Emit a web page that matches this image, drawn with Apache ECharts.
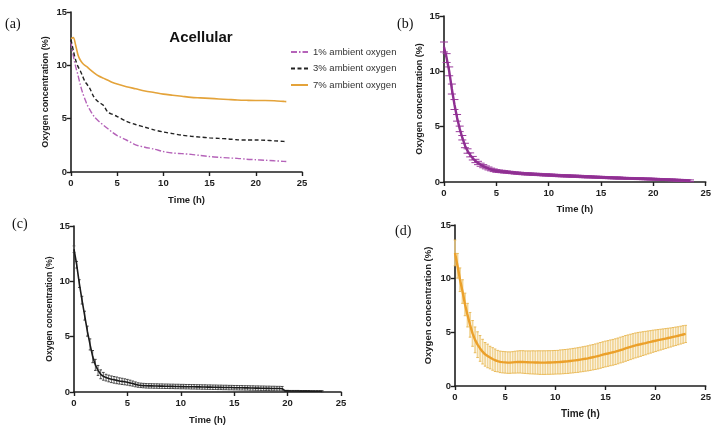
<!DOCTYPE html>
<html>
<head>
<meta charset="utf-8">
<script src="https://cdn.jsdelivr.net/npm/echarts@6/dist/echarts.min.js"></script>
<style>
  html, body { margin: 0; padding: 0; background: #fff; }
  #chart { width: 714px; height: 428px; }
</style>
</head>
<body>
<div id="chart"></div>
<script>
// ---- Panel (a): acellular medium, mean traces ----
const acellTime = [0, 0.25, 0.5, 0.75, 1, 1.25, 1.5, 1.75, 2, 2.5, 3, 3.5, 4, 4.5, 5, 6, 7, 8, 9, 10, 11, 12, 13, 14, 15, 16, 17, 18, 19, 20, 21, 22, 23, 23.3];
const acell1 = [12.2, 10.9, 9.9, 9.1, 8.2, 7.45, 6.85, 6.3, 5.9, 5.2, 4.75, 4.4, 4.05, 3.7, 3.42, 3.0, 2.55, 2.32, 2.15, 1.92, 1.78, 1.72, 1.65, 1.55, 1.45, 1.38, 1.32, 1.28, 1.2, 1.15, 1.1, 1.05, 1.0, 0.98];
const acell3 = [12.4, 11.4, 10.5, 9.9, 9.5, 9.0, 8.5, 8.2, 7.9, 7.0, 6.55, 6.25, 5.6, 5.4, 5.2, 4.75, 4.45, 4.2, 3.95, 3.75, 3.6, 3.45, 3.35, 3.27, 3.2, 3.15, 3.1, 3.02, 3.0, 3.0, 2.98, 2.92, 2.87, 2.85];
const acell7 = [12.5, 12.6, 11.9, 11.0, 10.5, 10.2, 10.0, 9.85, 9.65, 9.3, 9.0, 8.8, 8.6, 8.4, 8.25, 8.0, 7.8, 7.6, 7.45, 7.3, 7.2, 7.1, 7.0, 6.95, 6.9, 6.85, 6.8, 6.75, 6.72, 6.7, 6.7, 6.68, 6.62, 6.6];
const legendNames = ['1% ambient oxygen', '3% ambient oxygen', '7% ambient oxygen'];

// ---- Panels (b)-(d): readings every 15 min, mean and SD ----
const timeH = [0, 0.25, 0.5, 0.75, 1, 1.25, 1.5, 1.75, 2, 2.25, 2.5, 2.75, 3, 3.25, 3.5, 3.75,
  4, 4.25, 4.5, 4.75, 5, 5.25, 5.5, 5.75, 6, 6.25, 6.5, 6.75, 7, 7.25, 7.5, 7.75,
  8, 8.25, 8.5, 8.75, 9, 9.25, 9.5, 9.75, 10, 10.25, 10.5, 10.75, 11, 11.25, 11.5, 11.75,
  12, 12.25, 12.5, 12.75, 13, 13.25, 13.5, 13.75, 14, 14.25, 14.5, 14.75, 15, 15.25, 15.5, 15.75,
  16, 16.25, 16.5, 16.75, 17, 17.25, 17.5, 17.75, 18, 18.25, 18.5, 18.75, 19, 19.25, 19.5, 19.75,
  20, 20.25, 20.5, 20.75, 21, 21.25, 21.5, 21.75, 22, 22.25, 22.5, 22.75, 23, 23.25, 23.5];

// (b) 1% ambient oxygen
const meanB = [12.2, 11.2, 10.0, 8.4, 7.0, 5.8, 4.8, 4.0, 3.3, 2.8, 2.45, 2.15, 1.9, 1.72, 1.56, 1.43,
  1.32, 1.22, 1.13, 1.06, 1.0, 0.97, 0.95, 0.92, 0.9, 0.87, 0.85, 0.82, 0.8, 0.78, 0.76, 0.74,
  0.73, 0.72, 0.7, 0.69, 0.68, 0.67, 0.65, 0.64, 0.63, 0.62, 0.6, 0.59, 0.58, 0.57, 0.56, 0.55,
  0.54, 0.53, 0.52, 0.51, 0.5, 0.49, 0.48, 0.47, 0.46, 0.45, 0.44, 0.43, 0.42, 0.41, 0.4, 0.39,
  0.38, 0.37, 0.36, 0.36, 0.35, 0.34, 0.33, 0.33, 0.32, 0.31, 0.3, 0.3, 0.29, 0.28, 0.27, 0.27,
  0.26, 0.25, 0.24, 0.23, 0.22, 0.21, 0.2, 0.19, 0.18, 0.17, 0.16, 0.15, 0.14, 0.12, 0.11];
const sdB = [0.45, 0.4, 0.4, 0.45, 0.45, 0.3, 0.25, 0.2, 0.2, 0.2, 0.18, 0.16, 0.15, 0.15, 0.14, 0.14,
  0.13, 0.13, 0.12, 0.12, 0.12, 0.11, 0.11, 0.11, 0.1, 0.1, 0.1, 0.1, 0.1, 0.1, 0.1, 0.1,
  0.1, 0.1, 0.1, 0.1, 0.1, 0.1, 0.1, 0.1, 0.1, 0.1, 0.1, 0.1, 0.1, 0.1, 0.1, 0.1,
  0.1, 0.1, 0.1, 0.1, 0.1, 0.1, 0.1, 0.1, 0.09, 0.09, 0.09, 0.09, 0.09, 0.09, 0.09, 0.09,
  0.09, 0.09, 0.09, 0.09, 0.08, 0.08, 0.08, 0.08, 0.08, 0.08, 0.08, 0.08, 0.08, 0.08, 0.08, 0.08,
  0.08, 0.08, 0.08, 0.08, 0.08, 0.08, 0.08, 0.08, 0.08, 0.08, 0.08, 0.08, 0.08, 0.08, 0.08];

// (c) 3% ambient oxygen
const meanC = [12.9, 11.5, 9.8, 8.3, 6.9, 5.5, 4.3, 3.2, 2.45, 1.95, 1.6, 1.42, 1.3, 1.22, 1.15, 1.1,
  1.05, 1.0, 0.96, 0.92, 0.88, 0.82, 0.76, 0.69, 0.63, 0.6, 0.58, 0.56, 0.55, 0.55, 0.54, 0.54,
  0.53, 0.53, 0.52, 0.52, 0.51, 0.51, 0.5, 0.5, 0.49, 0.49, 0.48, 0.48, 0.47, 0.47, 0.46, 0.46,
  0.45, 0.45, 0.44, 0.44, 0.43, 0.43, 0.42, 0.42, 0.41, 0.41, 0.4, 0.4, 0.39, 0.39, 0.38, 0.38,
  0.37, 0.37, 0.36, 0.36, 0.35, 0.35, 0.34, 0.34, 0.33, 0.33, 0.32, 0.32, 0.31, 0.31, 0.3, 0.1,
  0.1, 0.09, 0.09, 0.09, 0.09, 0.08, 0.08, 0.08, 0.08, 0.07, 0.07, 0.07, 0.07, 0.06];
const sdC = [0.3, 0.3, 0.35, 0.35, 0.4, 0.45, 0.5, 0.55, 0.5, 0.45, 0.4, 0.35, 0.3, 0.3, 0.3, 0.3,
  0.3, 0.28, 0.28, 0.27, 0.26, 0.25, 0.23, 0.22, 0.2, 0.2, 0.2, 0.2, 0.2, 0.2, 0.2, 0.2,
  0.2, 0.2, 0.2, 0.2, 0.2, 0.2, 0.2, 0.2, 0.2, 0.2, 0.2, 0.2, 0.2, 0.2, 0.2, 0.2,
  0.2, 0.2, 0.2, 0.2, 0.2, 0.2, 0.2, 0.2, 0.2, 0.2, 0.2, 0.2, 0.2, 0.2, 0.2, 0.2,
  0.2, 0.2, 0.2, 0.2, 0.2, 0.2, 0.2, 0.2, 0.2, 0.2, 0.2, 0.2, 0.2, 0.2, 0.2, 0.05,
  0.05, 0.05, 0.05, 0.05, 0.05, 0.05, 0.05, 0.05, 0.05, 0.05, 0.05, 0.05, 0.05, 0.05];

// (d) 7% ambient oxygen
const meanD = [12.4, 11.2, 9.9, 8.8, 7.6, 6.6, 5.7, 4.9, 4.3, 3.85, 3.5, 3.2, 2.95, 2.8, 2.65, 2.52,
  2.4, 2.32, 2.25, 2.22, 2.2, 2.18, 2.18, 2.2, 2.22, 2.24, 2.25, 2.24, 2.22, 2.21, 2.2, 2.2,
  2.19, 2.19, 2.18, 2.18, 2.18, 2.19, 2.19, 2.2, 2.21, 2.22, 2.24, 2.26, 2.28, 2.3, 2.33, 2.36,
  2.39, 2.42, 2.46, 2.5, 2.54, 2.58, 2.63, 2.68, 2.73, 2.79, 2.85, 2.92, 2.98, 3.03, 3.09, 3.14,
  3.2, 3.27, 3.35, 3.42, 3.5, 3.57, 3.64, 3.71, 3.78, 3.84, 3.89, 3.95, 4.0, 4.06, 4.11, 4.17,
  4.22, 4.27, 4.32, 4.37, 4.42, 4.47, 4.52, 4.58, 4.63, 4.68, 4.74, 4.8, 4.85];
const sdD = [1.2, 1.15, 1.1, 1.1, 1.05, 1.1, 1.15, 1.2, 1.2, 1.2, 1.2, 1.15, 1.1, 1.1, 1.05, 1.05,
  1.05, 1.0, 1.0, 1.0, 1.0, 1.0, 1.0, 1.0, 1.02, 1.03, 1.04, 1.05, 1.05, 1.06, 1.07, 1.08,
  1.08, 1.09, 1.1, 1.1, 1.1, 1.1, 1.1, 1.1, 1.1, 1.1, 1.12, 1.12, 1.12, 1.13, 1.13, 1.14,
  1.14, 1.15, 1.15, 1.16, 1.16, 1.17, 1.18, 1.18, 1.19, 1.2, 1.2, 1.2, 1.2, 1.2, 1.2, 1.2,
  1.2, 1.2, 1.2, 1.2, 1.2, 1.19, 1.18, 1.17, 1.16, 1.15, 1.13, 1.11, 1.09, 1.07, 1.05, 1.03,
  1.01, 0.99, 0.97, 0.95, 0.93, 0.91, 0.89, 0.87, 0.86, 0.84, 0.83, 0.82, 0.8];

const yName = 'Oxygen concentration (%)';
const xName = 'Time (h)';
const FONT = 'Liberation Sans, Arial, Helvetica, sans-serif';
const INK = '#1e1e1e';

const chart = echarts.init(document.getElementById('chart'), null, { renderer: 'canvas' });

function xAxisFor(i, gap, nameSize) {
  return {
    type: 'value', gridIndex: i, min: 0, max: 25, interval: 5,
    name: xName, nameLocation: 'middle', nameGap: gap,
    nameTextStyle: { fontFamily: FONT, fontWeight: 'bold', fontSize: nameSize, color: INK },
    axisLine: { lineStyle: { color: INK, width: 1.6 } },
    axisTick: { length: 4, lineStyle: { color: INK, width: 1.4 } },
    axisLabel: { fontFamily: FONT, fontWeight: 'bold', fontSize: 9.5, color: INK, margin: 6 },
    splitLine: { show: false }
  };
}
function yAxisFor(i, gap, nameSize) {
  return {
    type: 'value', gridIndex: i, min: 0, max: 15, interval: 5,
    name: yName, nameLocation: 'middle', nameGap: gap, nameRotate: 90,
    nameTextStyle: { fontFamily: FONT, fontWeight: 'bold', fontSize: nameSize, color: INK },
    axisLine: { show: true, lineStyle: { color: INK, width: 1.6 } },
    axisTick: { show: true, length: 4, lineStyle: { color: INK, width: 1.4 } },
    axisLabel: { fontFamily: FONT, fontWeight: 'bold', fontSize: 9.5, color: INK, margin: 4 },
    splitLine: { show: false }
  };
}

function pairs(times, vals) {
  return vals.map((v, i) => [times[i], v]);
}

// Vertical SD bars with end caps, positioned through the axis scales
function errorBars(idx, times, mean, sd, color, width, cap, capColor, z) {
  return {
    type: 'custom', xAxisIndex: idx, yAxisIndex: idx, silent: true, z: z,
    data: mean.map((m, i) => [times[i], m - sd[i], m + sd[i]]),
    encode: { x: 0, y: [1, 2] },
    renderItem: function (params, api) {
      const t = api.value(0);
      const lo = api.coord([t, api.value(1)]);
      const hi = api.coord([t, api.value(2)]);
      const hw = cap / 2;
      const st = { stroke: color, lineWidth: width };
      const cs = { stroke: capColor, lineWidth: 1 };
      return {
        type: 'group',
        children: [
          { type: 'line', shape: { x1: lo[0], y1: lo[1], x2: hi[0], y2: hi[1] }, style: st },
          { type: 'line', shape: { x1: hi[0] - hw, y1: hi[1], x2: hi[0] + hw, y2: hi[1] }, style: cs },
          { type: 'line', shape: { x1: lo[0] - hw, y1: lo[1], x2: lo[0] + hw, y2: lo[1] }, style: cs }
        ]
      };
    }
  };
}

const option = {
  animation: false,
  backgroundColor: '#ffffff',
  title: {
    text: 'Acellular', left: 196, top: 25, textAlign: 'center',
    textStyle: { fontFamily: FONT, fontWeight: 'bold', fontSize: 15, color: '#111' }
  },
  legend: {
    data: legendNames, orient: 'vertical', left: 285, top: 42,
    itemWidth: 17, itemHeight: 10, itemGap: 6.5,
    itemStyle: { opacity: 0, color: 'rgba(0,0,0,0)', borderWidth: 0 },
    textStyle: { fontFamily: FONT, fontSize: 9.5, color: '#333', lineHeight: 10 }
  },
  grid: [
    { left: 71, top: 12, width: 231, height: 160 },
    { left: 444, top: 16, width: 268, height: 166 },
    { left: 74, top: 226, width: 267, height: 166 },
    { left: 455, top: 225, width: 255, height: 161 }
  ],
  xAxis: [xAxisFor(0, 23, 9.5), xAxisFor(1, 22, 9.5), xAxisFor(2, 23, 9.5), xAxisFor(3, 23, 10)],
  yAxis: [yAxisFor(0, 21, 9), yAxisFor(1, 20, 9), yAxisFor(2, 20, 8.5), yAxisFor(3, 22, 9.5)],
  graphic: [
    { type: 'text', left: 5, top: 17, style: { text: '(a)', font: '14px "Liberation Serif", serif', fill: '#111' } },
    { type: 'text', left: 397, top: 17, style: { text: '(b)', font: '14px "Liberation Serif", serif', fill: '#111' } },
    { type: 'text', left: 12, top: 217, style: { text: '(c)', font: '14px "Liberation Serif", serif', fill: '#111' } },
    { type: 'text', left: 395, top: 224, style: { text: '(d)', font: '14px "Liberation Serif", serif', fill: '#111' } }
  ],
  series: [
    { name: legendNames[0], type: 'line', xAxisIndex: 0, yAxisIndex: 0, data: pairs(acellTime, acell1),
      symbol: 'none', smooth: 0.3, lineStyle: { color: '#b563b9', width: 1.4, type: [6, 2, 1.5, 2] }, itemStyle: { color: '#b563b9' } },
    { name: legendNames[1], type: 'line', xAxisIndex: 0, yAxisIndex: 0, data: pairs(acellTime, acell3),
      symbol: 'none', smooth: 0.3, lineStyle: { color: '#222', width: 1.4, type: [4, 2.5] }, itemStyle: { color: '#222' } },
    { name: legendNames[2], type: 'line', xAxisIndex: 0, yAxisIndex: 0, data: pairs(acellTime, acell7),
      symbol: 'none', smooth: 0.3, lineStyle: { color: '#e4a33a', width: 1.6 }, itemStyle: { color: '#e4a33a' } },

    errorBars(1, timeH, meanB, sdB, '#9a3b9c', 1.1, 8, '#9a3b9c', 2),
    { type: 'line', xAxisIndex: 1, yAxisIndex: 1, data: pairs(timeH, meanB), symbol: 'none', z: 3,
      lineStyle: { color: '#8f2f92', width: 2.4 } },

    errorBars(2, timeH, meanC, sdC, '#666', 1, 2.6, '#444', 2),
    { type: 'line', xAxisIndex: 2, yAxisIndex: 2, data: pairs(timeH, meanC), symbol: 'none', z: 3,
      lineStyle: { color: '#1a1a1a', width: 1.6 } },

    errorBars(3, timeH, meanD, sdD, 'rgba(240,208,140,0.9)', 1.8, 2.6, 'rgba(232,182,80,0.9)', 2),
    { type: 'line', xAxisIndex: 3, yAxisIndex: 3, data: pairs(timeH, meanD), symbol: 'none', z: 3,
      lineStyle: { color: '#eba02a', width: 2.4 } }
  ]
};

chart.setOption(option);
</script>
</body>
</html>
